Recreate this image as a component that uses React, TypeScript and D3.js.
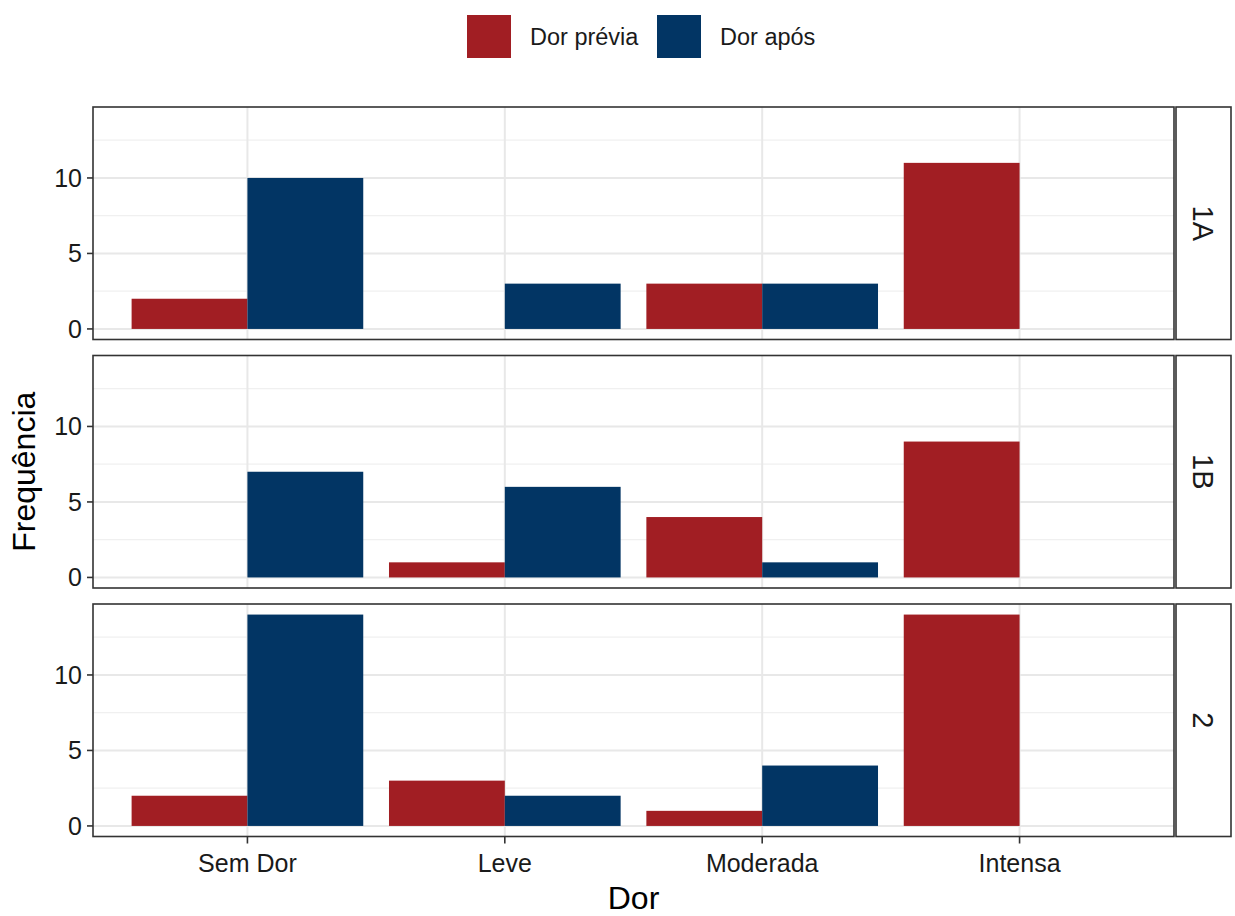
import React from "react";
import * as d3 from "d3";

// Pain categories on the x axis
const categories = ["Sem Dor", "Leve", "Moderada", "Intensa"];
// Facet groups (right-hand strips)
const groups = ["1A", "1B", "2"];
// Series
const seriesNames = ["Dor prévia", "Dor após"];
const seriesColors = ["#A11E23", "#023564"];
// Frequencies per group, one array per series, aligned with categories
const previa1A = [2, 0, 3, 11];
const apos1A = [10, 3, 3, 0];
const previa1B = [0, 1, 4, 9];
const apos1B = [7, 6, 1, 0];
const previa2 = [2, 3, 1, 14];
const apos2 = [14, 2, 4, 0];
const yTicks = [0, 5, 10];
const yMinor = [2.5, 7.5, 12.5];

const groupData: number[][][] = [
  [previa1A, apos1A],
  [previa1B, apos1B],
  [previa2, apos2],
];

const W = 1235;
const H = 916;
const panelLeft = 93;
const panelRight = 1174;
const panelTop0 = 107;
const panelH = 232.5;
const panelGap = 16;
const stripW = 55;
const font = "'Liberation Sans', Arial, sans-serif";

export default function App() {
  const x = d3
    .scaleLinear()
    .domain([0.4, categories.length + 0.6])
    .range([panelLeft, panelRight]);
  const maxV = d3.max(groupData.flat(2)) as number;
  const pad = maxV * 0.05;
  const barW = 0.45;

  return (
    <svg width={W} height={H} style={{ display: "block", position: "absolute", left: 0, top: 0 }} fontFamily={font}>
      <rect width={W} height={H} fill="#fff" />
      {/* legend */}
      {seriesNames.map((name, i) => {
        const lx = [467, 657][i];
        return (
          <g key={name}>
            <rect x={lx} y={15} width={44} height={43} fill={seriesColors[i]} />
            <text x={lx + 63} y={45} fontSize={23.5} fill="#1a1a1a">
              {name}
            </text>
          </g>
        );
      })}
      {groups.map((g, gi) => {
        const top = panelTop0 + gi * (panelH + panelGap);
        const bottom = top + panelH;
        const y = d3.scaleLinear().domain([-pad, maxV + pad]).range([bottom, top]);
        return (
          <g key={g}>
            {/* grid */}
            {yMinor.map((v) => (
              <line key={"mn" + v} x1={panelLeft} x2={panelRight} y1={y(v)} y2={y(v)} stroke="#f0f0f0" strokeWidth={1.2} />
            ))}
            {yTicks.map((v) => (
              <line key={"mj" + v} x1={panelLeft} x2={panelRight} y1={y(v)} y2={y(v)} stroke="#e8e8e8" strokeWidth={2} />
            ))}
            {categories.map((c, ci) => (
              <line key={"vx" + c} x1={x(ci + 1)} x2={x(ci + 1)} y1={top} y2={bottom} stroke="#e8e8e8" strokeWidth={2} />
            ))}
            {/* bars */}
            {groupData[gi].map((vals, si) =>
              vals.map((v, ci) => {
                if (v === 0) return null;
                const x0 = x(ci + 1 - barW + si * barW);
                const x1 = x(ci + 1 + si * barW);
                return (
                  <rect
                    key={`b${si}-${ci}`}
                    x={x0}
                    y={y(v)}
                    width={x1 - x0}
                    height={y(0) - y(v)}
                    fill={seriesColors[si]}
                  />
                );
              })
            )}
            {/* panel border */}
            <rect x={panelLeft} y={top} width={panelRight - panelLeft} height={panelH} fill="none" stroke="#333" strokeWidth={1.6} />
            {/* y ticks */}
            {yTicks.map((v) => (
              <g key={"yt" + v}>
                <line x1={panelLeft - 6} x2={panelLeft} y1={y(v)} y2={y(v)} stroke="#333" strokeWidth={1.6} />
                <text x={panelLeft - 11} y={y(v)} dy="0.36em" textAnchor="end" fontSize={25} fill="#1a1a1a">
                  {v}
                </text>
              </g>
            ))}
            {/* strip */}
            <rect x={panelRight + 2} y={top} width={stripW} height={panelH} fill="#fff" stroke="#333" strokeWidth={1.6} />
            <text
              transform={`translate(${panelRight + 2 + stripW / 2},${top + panelH / 2}) rotate(90)`}
              textAnchor="middle"
              dy="0.36em"
              fontSize={29}
              fill="#1a1a1a"
            >
              {g}
            </text>
            {/* x axis on the last panel */}
            {gi === groups.length - 1 &&
              categories.map((c, ci) => (
                <g key={"xt" + c}>
                  <line x1={x(ci + 1)} x2={x(ci + 1)} y1={bottom} y2={bottom + 7} stroke="#333" strokeWidth={1.6} />
                  <text x={x(ci + 1)} y={bottom + 35} textAnchor="middle" fontSize={25} fill="#1a1a1a">
                    {c}
                  </text>
                </g>
              ))}
          </g>
        );
      })}
      {/* axis titles */}
      <text x={(panelLeft + panelRight) / 2} y={909} textAnchor="middle" fontSize={32} fill="#000">
        Dor
      </text>
      <text
        transform={`translate(35,${(panelTop0 + panelTop0 + 3 * panelH + 2 * panelGap) / 2}) rotate(-90)`}
        textAnchor="middle"
        fontSize={32}
        fill="#000"
      >
        Frequência
      </text>
    </svg>
  );
}
